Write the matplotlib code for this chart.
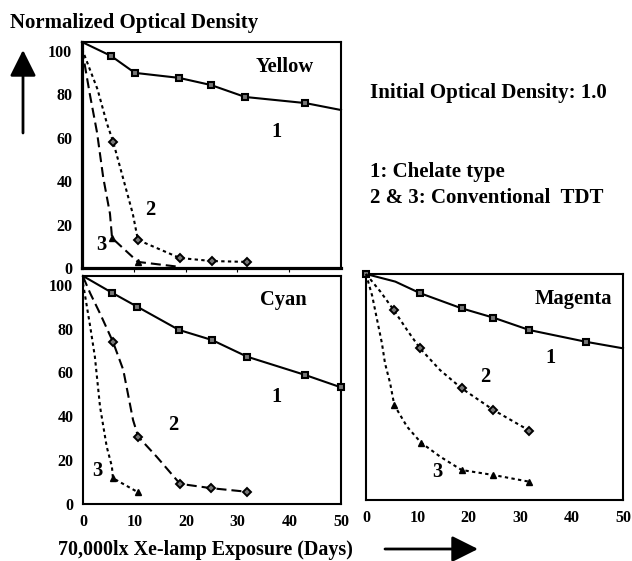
import matplotlib
matplotlib.use("Agg")
import matplotlib.pyplot as plt

plt.rcParams['font.family'] = ['Liberation Serif', 'DejaVu Serif']
plt.rcParams['font.weight'] = 'bold'

# ---------------- data ----------------
# Yellow
y1_x = [0, 5.6, 10.2, 18.7, 24.9, 31.5, 43.1, 50]
y1_y = [104, 97.6, 89.8, 87.5, 84.2, 78.7, 75.9, 72.7]
y1_m = [1, 2, 3, 4, 5, 6]
y2_x = [0, 1.5, 3, 4.8, 6.0, 7.9, 9.8, 10.8, 18.9, 25.1, 31.9]
y2_y = [100.9, 91.5, 82.2, 66.6, 58.2, 41.6, 25, 12.9, 4.6, 3.2, 2.8]
y2_m = [4, 7, 8, 9, 10]
y3_x = [0, 1.5, 2.9, 4.1, 5.4, 5.8, 10.8, 18.9]
y3_y = [100.9, 80.1, 62.4, 41.6, 25, 13.8, 2.8, 0.5]
y3_m = [5, 6]

# Cyan
c1_x = [0, 5.6, 10.5, 18.6, 25.0, 31.8, 43.0, 50]
c1_y = [104, 96.4, 90.0, 79.4, 74.8, 67.2, 58.9, 53.2]
c1_m = [1, 2, 3, 4, 5, 6, 7]
c2_x = [0, 1.4, 3.3, 5.8, 7.8, 9.7, 10.7, 14.3, 18.8, 24.9, 31.7]
c2_y = [103.7, 96.1, 86.9, 74.0, 61.2, 38.3, 30.7, 21.5, 9.2, 7.2, 5.6]
c2_m = [3, 6, 8, 9, 10]
c3_x = [0, 1.4, 2.3, 3.3, 4.6, 5.6, 5.8, 10.7]
c3_y = [100.7, 80.9, 67.2, 44.4, 26.1, 17.1, 11.8, 5.3]
c3_m = [6, 7]

# Magenta
m1_x = [0, 5.7, 10.5, 18.6, 24.8, 31.8, 42.8, 50]
m1_y = [104, 100.5, 95.2, 88.2, 83.9, 78.2, 72.8, 69.8]
m1_m = [0, 2, 3, 4, 5, 6]
m2_x = [0, 2.8, 5.4, 8.0, 10.5, 14.4, 18.6, 24.8, 31.8]
m2_y = [104, 95.9, 87.4, 78.2, 69.8, 59.8, 51.4, 41.4, 31.9]
m2_m = [2, 4, 6, 7, 8]
m3_x = [0, 1.2, 2.1, 3.1, 3.7, 4.7, 5.5, 8.0, 10.7, 14.4, 18.6, 24.8, 31.8]
m3_y = [104, 94, 83.6, 72.1, 62.9, 53.7, 43.7, 33.7, 26.4, 20, 13.8, 11.5, 8.4]
m3_m = [6, 8, 10, 11, 12]

y_ticks = [0, 20, 40, 60, 80, 100]
x_ticks = [0, 10, 20, 30, 40, 50]

# ---------------- styles ----------------
LONG = (0, (4.8, 2.4))
SHORT = (0, (1.6, 1.6))
LW = 1.5

def solid(ax, x, y, m):
    ax.plot(x, y, color='black', lw=LW, ls='-', marker='s', ms=4,
            mfc='#777777', mec='black', mew=1.5, markevery=m, clip_on=False, zorder=3)

def curve2(ax, x, y, m, ls):
    ax.plot(x, y, color='black', lw=LW, ls=ls, marker='D', ms=3.6,
            mfc='#777777', mec='black', mew=1.4, markevery=m, clip_on=False, zorder=3)

def curve3(ax, x, y, m, ls):
    ax.plot(x, y, color='black', lw=LW, ls=ls, marker='^', ms=5,
            mfc='black', mec='black', markevery=m, clip_on=False, zorder=3)

fig = plt.figure(figsize=(6.32, 5.61), dpi=100)

W, H = 632.0, 561.0
def rect(l, r, t, b):
    return [l / W, 1 - b / H, (r - l) / W, (b - t) / H]

axY = fig.add_axes(rect(82, 341, 42, 268))
axC = fig.add_axes(rect(83, 341, 276, 504))
axM = fig.add_axes(rect(366, 623, 274, 500))

for ax in (axY, axC, axM):
    ax.set_xlim(0, 50)
    ax.set_ylim(0, 104)
    for s in ax.spines.values():
        s.set_linewidth(1.5)
        s.set_color('black')
    ax.tick_params(labelsize=11.5, length=0, pad=7)

FS = 14.8
def lab(ax, x, y, s):
    ax.text(x, y, s, fontsize=FS, fontweight='bold', ha='center', va='center')

# Yellow
axY.spines['left'].set_linewidth(2.3)
axY.spines['bottom'].set_linewidth(2.3)
axY.set_yticks(y_ticks)
axY.set_yticklabels([str(v) for v in y_ticks], fontweight='bold')
axY.set_xticks(x_ticks[1:-1])
axY.tick_params(axis='x', length=3, direction='out', labelbottom=False)
solid(axY, y1_x, y1_y, y1_m)
curve2(axY, y2_x, y2_y, y2_m, SHORT)
curve3(axY, y3_x, y3_y, y3_m, LONG)
lab(axY, 39.2, 92.5, 'Yellow')
lab(axY, 37.6, 62.7, '1')
lab(axY, 13.1, 26.7, '2')
lab(axY, 3.8, 10.6, '3')

# Cyan
axC.set_yticks(y_ticks)
axC.set_yticklabels([str(v) for v in y_ticks], fontweight='bold')
axC.set_xticks(x_ticks)
axC.set_xticklabels([str(v) for v in x_ticks], fontweight='bold')
solid(axC, c1_x, c1_y, c1_m)
curve2(axC, c2_x, c2_y, c2_m, LONG)
curve3(axC, c3_x, c3_y, c3_m, SHORT)
lab(axC, 38.8, 93.1, 'Cyan')
lab(axC, 37.5, 49.0, '1')
lab(axC, 17.4, 36.0, '2')
lab(axC, 2.85, 15.2, '3')

# Magenta
axM.set_yticks([])
axM.set_xticks(x_ticks)
axM.set_xticklabels([str(v) for v in x_ticks], fontweight='bold')
solid(axM, m1_x, m1_y, m1_m)
curve2(axM, m2_x, m2_y, m2_m, SHORT)
curve3(axM, m3_x, m3_y, m3_m, SHORT)
lab(axM, 40.3, 92.4, 'Magenta')
lab(axM, 35.8, 65.2, '1')
lab(axM, 23.2, 56.5, '2')
lab(axM, 13.9, 13.0, '3')

# Figure texts
def fx(px):
    return px / W
def fy(py):
    return 1 - py / H

fig.text(fx(10), fy(23), 'Normalized Optical Density', fontsize=15, fontweight='bold',
         ha='left', va='center')
fig.text(fx(370), fy(93), 'Initial Optical Density: 1.0', fontsize=15, fontweight='bold',
         ha='left', va='center')
fig.text(fx(370), fy(172), '1: Chelate type', fontsize=15, fontweight='bold',
         ha='left', va='center')
fig.text(fx(370), fy(198), '2 & 3: Conventional  TDT', fontsize=15, fontweight='bold',
         ha='left', va='center')
fig.text(fx(58), fy(550), '70,000lx Xe-lamp Exposure (Days)', fontsize=14.4, fontweight='bold',
         ha='left', va='center')

# Arrows
arrow_kw = dict(arrowstyle='-|>,head_length=0.4,head_width=0.2', color='black',
                lw=2, mutation_scale=40, shrinkA=0, shrinkB=0)
fig.add_artist(matplotlib.patches.FancyArrowPatch((fx(23), fy(133)), (fx(23), fy(50)),
               transform=fig.transFigure, **arrow_kw))
fig.add_artist(matplotlib.patches.FancyArrowPatch((fx(385), fy(549)), (fx(478), fy(549)),
               transform=fig.transFigure, **arrow_kw))

fig.savefig('out.png', dpi=100)
